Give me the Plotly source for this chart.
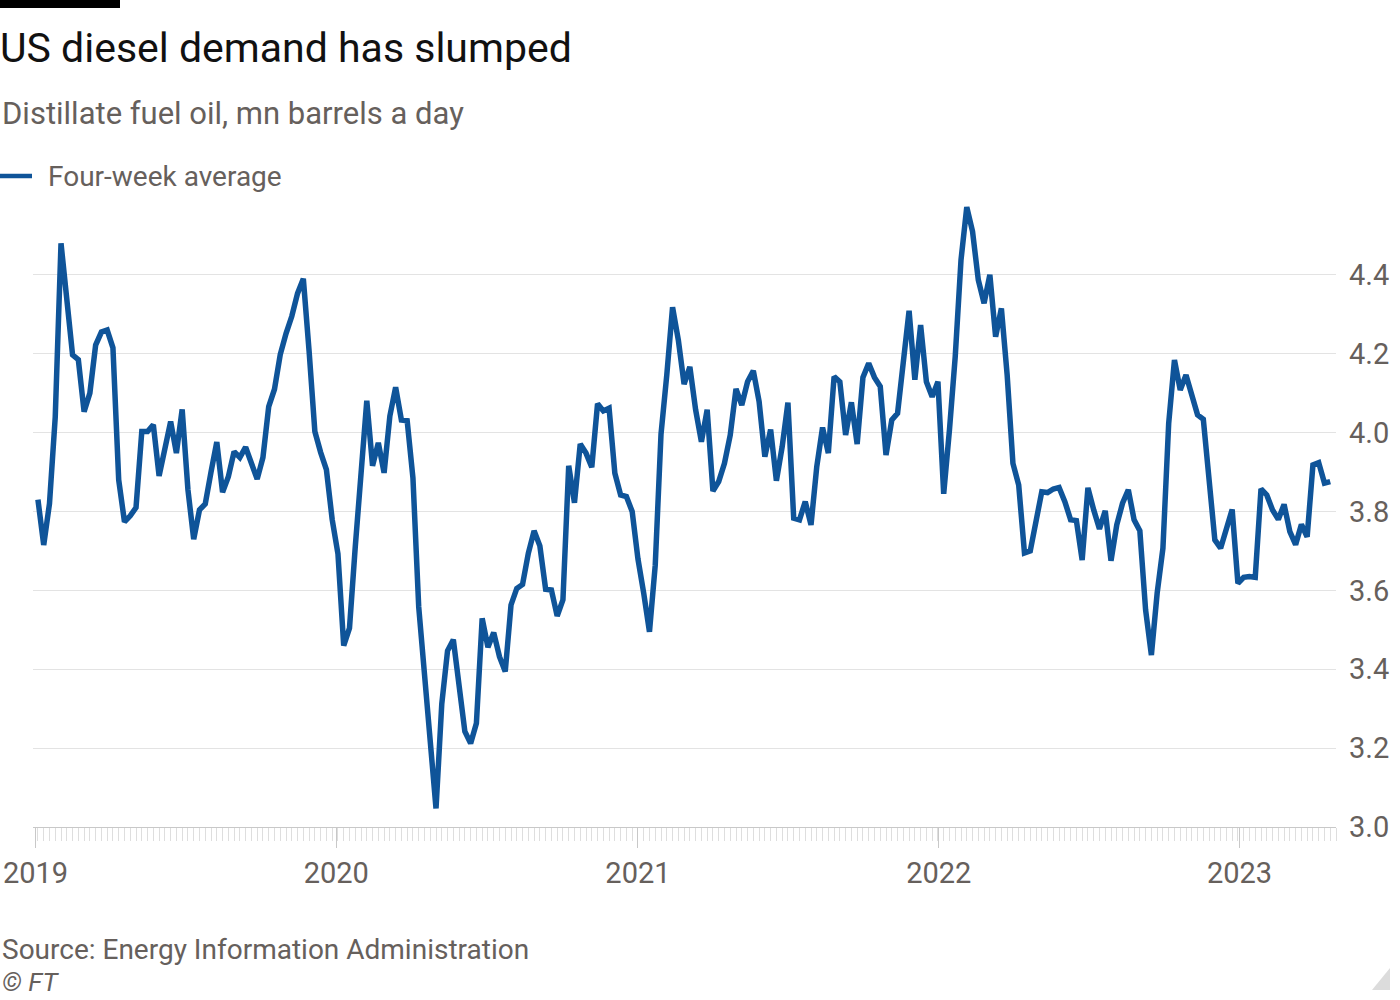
import pandas as pd
import plotly.graph_objects as go

# ---- data (weekly, four-week average, mn b/d) ----
start_date = "2019-01-04"
demand = [
    3.83, 3.715, 3.82, 4.04, 4.48, 4.32, 4.197, 4.185, 4.053, 4.10,
    4.222, 4.255, 4.26, 4.215, 3.88, 3.774, 3.789, 3.81, 4.003, 4.003,
    4.02, 3.89, 3.96, 4.028, 3.948, 4.059, 3.855, 3.73, 3.804, 3.819,
    3.90, 3.976, 3.849, 3.888, 3.952, 3.937, 3.963, 3.92, 3.882, 3.937,
    4.066, 4.11, 4.198, 4.251, 4.295, 4.353, 4.39, 4.207, 4.003, 3.95,
    3.906, 3.78, 3.693, 3.46, 3.504, 3.71, 3.916, 4.081, 3.916, 3.974,
    3.898, 4.042, 4.115, 4.032, 4.03, 3.885, 3.558, 3.40, 3.222, 3.047,
    3.312, 3.447, 3.475, 3.355, 3.242, 3.212, 3.263, 3.529, 3.456, 3.493,
    3.432, 3.394, 3.563, 3.605, 3.615, 3.694, 3.751, 3.713, 3.603, 3.601,
    3.535, 3.576, 3.916, 3.822, 3.971, 3.948, 3.912, 4.073, 4.055, 4.062,
    3.897, 3.842, 3.838, 3.80, 3.68, 3.593, 3.495, 3.664, 3.996, 4.146,
    4.318, 4.235, 4.123, 4.167, 4.058, 3.977, 4.058, 3.852, 3.876, 3.922,
    3.994, 4.111, 4.07, 4.129, 4.157, 4.079, 3.939, 4.008, 3.878, 3.964,
    4.076, 3.783, 3.779, 3.825, 3.766, 3.914, 4.013, 3.948, 4.142, 4.129,
    3.994, 4.077, 3.971, 4.14, 4.176, 4.14, 4.117, 3.943, 4.032, 4.049,
    4.167, 4.309, 4.134, 4.273, 4.129, 4.091, 4.129, 3.845, 4.007, 4.193,
    4.438, 4.572, 4.51, 4.387, 4.328, 4.40, 4.243, 4.315, 4.146, 3.922,
    3.867, 3.695, 3.70, 3.78, 3.85, 3.848, 3.857, 3.861, 3.825, 3.779,
    3.777, 3.677, 3.86, 3.804, 3.756, 3.802, 3.675, 3.766, 3.821, 3.855,
    3.779, 3.751, 3.55, 3.436, 3.593, 3.707, 4.024, 4.184, 4.108, 4.146,
    4.10, 4.045, 4.034, 3.897, 3.728, 3.707, 3.753, 3.805, 3.618, 3.633,
    3.635, 3.633, 3.857, 3.842, 3.804, 3.78, 3.818, 3.749, 3.716, 3.767,
    3.736, 3.918, 3.924, 3.872, 3.876,
]
weeks = pd.date_range(start_date, periods=len(demand), freq="7D")

year_ticks = ["2019-01-01", "2020-01-01", "2021-01-01", "2022-01-01", "2023-01-01"]
year_labels = ["2019", "2020", "2021", "2022", "2023"]
y_ticks = [3.0, 3.2, 3.4, 3.6, 3.8, 4.0, 4.2, 4.4]

title = "US diesel demand has slumped"
subtitle = "Distillate fuel oil, mn barrels a day"
series_name = "Four-week average"
source = "Source: Energy Information Administration"

# ---- layout geometry ----
W, H = 1400, 1000
L, R, T, B = 33, 64, 196, 173
PW, PH = W - L - R, H - T - B


def px_x(p):
    return (p - L) / PW


def px_y(p):
    return (H - B - p) / PH


FONT = "Roboto, Arial, sans-serif"
GREY = "#66605c"
BLUE = "#0f5499"

fig = go.Figure()
fig.add_trace(go.Scatter(
    x=weeks, y=demand, mode="lines", name=series_name,
    line=dict(color=BLUE, width=5.5), showlegend=False,
))

fig.update_layout(
    width=W, height=H,
    margin=dict(l=L, r=R, t=T, b=B, pad=0, autoexpand=False),
    paper_bgcolor="white", plot_bgcolor="white",
    font=dict(family=FONT, color=GREY, size=28),
    title=dict(text=title, x=0, xref="container", xanchor="left",
               y=1 - 48 / H, yref="container", yanchor="middle",
               font=dict(family=FONT, size=41, color="#111111"), pad=dict(l=0, t=0)),
    showlegend=False,
    xaxis=dict(
        type="date", automargin=False,
        range=["2018-12-29", "2023-04-28"],
        tickvals=year_ticks, ticktext=year_labels,
        ticks="outside", ticklen=20, tickcolor="#c8c8c8", tickwidth=1,
        showgrid=False, zeroline=False,
        showline=True, linecolor="#c8c8c8", linewidth=1,
        tickfont=dict(family=FONT, size=29, color=GREY),
        minor=dict(ticks="outside", ticklen=13, tickcolor="#dedede", tickwidth=1,
                   tick0=start_date, dtick=7 * 86400000, showgrid=False),
        fixedrange=True,
    ),
    yaxis=dict(
        side="right", range=[3.0, 4.6], automargin=False,
        tickvals=y_ticks, tickformat=".1f",
        showgrid=True, gridcolor="#e3e3e3", gridwidth=1,
        zeroline=False, showline=False, ticks="",
        ticklabelstandoff=12,
        tickfont=dict(family=FONT, size=29, color=GREY),
        fixedrange=True,
    ),
    annotations=[
        dict(text=subtitle, x=px_x(0), y=px_y(114), xref="paper", yref="paper",
             xanchor="left", yanchor="middle", showarrow=False,
             font=dict(family=FONT, size=31, color=GREY)),
        # legend key text
        dict(text=series_name, x=px_x(46), y=px_y(177), xref="paper", yref="paper",
             xanchor="left", yanchor="middle", showarrow=False,
             font=dict(family=FONT, size=28, color=GREY)),
        dict(text=source, x=px_x(0), y=px_y(949), xref="paper", yref="paper",
             xanchor="left", yanchor="middle", showarrow=False,
             font=dict(family=FONT, size=28, color=GREY)),
        dict(text="<i>© FT</i>", x=px_x(0), y=px_y(982), xref="paper", yref="paper",
             xanchor="left", yanchor="middle", showarrow=False,
             font=dict(family=FONT, size=26, color=GREY)),
    ],
    shapes=[
        dict(type="rect", xref="paper", yref="paper",
             x0=px_x(0), x1=px_x(120), y0=px_y(8), y1=px_y(0),
             fillcolor="#000000", line=dict(width=0)),
        # legend key line
        dict(type="line", xref="paper", yref="paper",
             x0=px_x(0), x1=px_x(32), y0=px_y(176), y1=px_y(176),
             line=dict(color=BLUE, width=4.5)),
        dict(type="path", xref="paper", yref="paper",
             path="M {:.5f},{:.5f} L {:.5f},{:.5f} L {:.5f},{:.5f} Z".format(
                 px_x(1372), px_y(990), px_x(1390), px_y(968), px_x(1390), px_y(990)),
             fillcolor="#dcdcdc", line=dict(width=0)),
    ],
)

fig.write_html(
    "out.html",
    config={"displayModeBar": False},
    post_script="document.body.style.margin='0';document.body.style.padding='0';",
)
